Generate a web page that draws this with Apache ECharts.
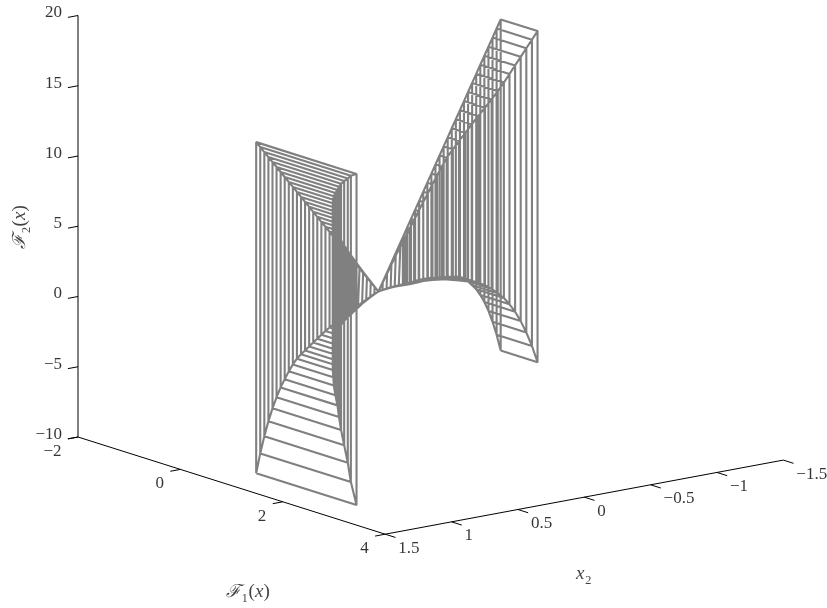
<!DOCTYPE html>
<html>
<head>
<meta charset="utf-8">
<style>html,body{margin:0;padding:0;background:#fff}#c{width:827px;height:608px}</style>
<script src="https://cdn.jsdelivr.net/npm/echarts@6/dist/echarts.min.js"></script>
</head>
<body>
<div id="c"></div>
<script>
var x2Values = [1.5,1.45,1.4,1.35,1.3,1.25,1.2,1.15,1.1,1.05,1,0.95,0.9,0.85,0.8,0.75,0.7,0.65,0.6,0.55,0.5,0.45,0.4,0.35,0.3,0.25,0.2,0.15,0.1,0.05,0,
  -0.05,-0.1,-0.15,-0.2,-0.25,-0.3,-0.35,-0.4,-0.45,-0.5,-0.55,-0.6,-0.65,-0.7,-0.75,-0.8,-0.85,-0.9,-0.95,-1,-1.05,-1.1,-1.15,-1.2,-1.25,-1.3,-1.35,-1.4,-1.45,-1.5];
var f1Low = [1.48,1.43,1.38,1.33,1.28,1.23,1.18,1.13,1.08,1.03,0.98,0.93,0.88,0.83,0.78,0.73,0.68,0.63,0.58,0.53,0.48,0.43,0.38,0.33,0.28,0.23,0.18,0.13,0.08,0.03,-0.02,
  -0.07,-0.12,-0.17,-0.22,-0.27,-0.32,-0.37,-0.42,-0.47,-0.52,-0.57,-0.62,-0.67,-0.72,-0.77,-0.82,-0.87,-0.92,-0.97,-1.02,-1.07,-1.12,-1.17,-1.22,-1.27,-1.32,-1.37,-1.42,-1.47,-1.52];
var f1High = [3.44,3.2,3.01,2.81,2.62,2.45,2.29,2.12,1.96,1.82,1.68,1.55,1.42,1.3,1.18,1.06,0.93,0.83,0.74,0.66,0.58,0.51,0.44,0.38,0.32,0.26,0.2,0.145,0.09,0.035,-0.02,
  -0.065,-0.11,-0.155,-0.2,-0.24,-0.28,-0.32,-0.36,-0.4,-0.44,-0.48,-0.52,-0.56,-0.595,-0.63,-0.64,-0.65,-0.65,-0.66,-0.66,-0.66,-0.66,-0.67,-0.68,-0.7,-0.72,-0.74,-0.76,-0.78,-0.8];
var f2Low = [-8.57,-7.3,-6.23,-5.31,-4.53,-3.89,-3.33,-2.9,-2.48,-2.13,-1.87,-1.7,-1.57,-1.43,-1.3,-1.17,-1.04,-0.92,-0.81,-0.71,-0.62,-0.56,-0.5,-0.44,-0.36,-0.28,-0.2,-0.14,-0.08,-0.03,0,
  -0.03,-0.08,-0.14,-0.2,-0.28,-0.36,-0.44,-0.5,-0.56,-0.62,-0.71,-0.81,-0.92,-1.04,-1.17,-1.3,-1.43,-1.57,-1.7,-1.87,-2.13,-2.48,-2.9,-3.33,-3.89,-4.53,-5.31,-6.23,-7.3,-8.57];
var f2High = [15,14.5,14,13.5,13,12.5,12,11.5,11,10.5,10,9.5,9,8.5,8,7.5,7,6.5,6,5.5,5,4.5,4,3.5,3,2.5,2,1.5,1,0.5,0,
  0.5,1,1.5,2,2.5,3,3.5,4,4.5,5,5.5,6,6.5,7,7.5,8,8.5,9,9.5,10,10.5,11,11.5,12,12.5,13,13.5,14,14.5,15];

var f1Ticks = [-2,0,2,4];
var x2Ticks = [1.5,1,0.5,0,-0.5,-1,-1.5];
var f2Ticks = [-10,-5,0,5,10,15,20];

// oblique view of the three data axes
function view(f1, x2, f2) {
  return [
    78 + 51.2 * (f1 + 2) + 132.7 * (1.5 - x2),
    437 + 16.2 * (f1 + 2) - 24.7 * (1.5 - x2) - 14.05 * (f2 + 10)
  ];
}
var GAP = [null, null];

var mesh = [];
x2Values.forEach(function (x2, i) {
  mesh.push(
    view(f1Low[i], x2, f2Low[i]), view(f1High[i], x2, f2Low[i]),
    view(f1High[i], x2, f2High[i]), view(f1Low[i], x2, f2High[i]),
    view(f1Low[i], x2, f2Low[i]), GAP
  );
});
[[f1Low, f2Low], [f1High, f2Low], [f1Low, f2High], [f1High, f2High]].forEach(function (edge) {
  x2Values.forEach(function (x2, i) { mesh.push(view(edge[0][i], x2, edge[1][i])); });
  mesh.push(GAP);
});

var axes = [
  view(-2, 1.5, 20), view(-2, 1.5, -10), view(4, 1.5, -10), view(4, -1.5, -10), GAP
];
var tickLen = 0.076, tickF1 = 0.2;
f2Ticks.forEach(function (v) { axes.push(view(-2, 1.5, v), view(-2, 1.5 + tickLen, v), GAP); });
f1Ticks.forEach(function (v) { axes.push(view(v, 1.5, -10), view(v, 1.5 + tickLen, -10), GAP); });
x2Ticks.forEach(function (v) { axes.push(view(4, v, -10), view(4 + tickF1, v, -10), GAP); });

function fmt(v) { return String(v).replace('-', '\u2212'); }
function tickLabels(list, fn, dx, dy) {
  return list.map(function (v) {
    var p = fn(v);
    return [p[0] + dx, p[1] + dy, fmt(v)];
  });
}
var FONT = '"Liberation Serif","Times New Roman",serif';
function labelSeries(data, align) {
  return {
    type: 'scatter', data: data, symbolSize: 1, silent: true, clip: false,
    itemStyle: { color: 'transparent' },
    label: {
      show: true, position: 'inside', align: align, verticalAlign: 'middle',
      fontFamily: FONT, fontSize: 17, color: '#000',
      formatter: function (p) { return p.data[2]; }
    }
  };
}
var richText = {
  f: { fontFamily: '"DejaVu Serif","Liberation Serif",serif', fontStyle: 'italic', fontSize: 18, color: '#111' },
  b: { fontFamily: FONT, fontSize: 21, color: '#111' },
  s: { fontFamily: FONT, fontSize: 19, color: '#111' },
  i: { fontFamily: FONT, fontStyle: 'italic', fontSize: 19, color: '#111' }
};
function titleSeries(pos, text, rotate) {
  return {
    type: 'scatter', data: [pos], symbolSize: 1, silent: true, clip: false,
    itemStyle: { color: 'transparent' },
    label: { show: true, position: 'inside', align: 'center', verticalAlign: 'middle', rotate: rotate || 0, rich: richText, formatter: text }
  };
}

var chart = echarts.init(document.getElementById('c'), null, { renderer: 'canvas' });
chart.setOption({
  animation: false,
  backgroundColor: '#fff',
  grid: { left: 0, right: 0, top: 0, bottom: 0 },
  xAxis: { type: 'value', min: 0, max: 827, show: false },
  yAxis: { type: 'value', min: 0, max: 608, inverse: true, show: false },
  series: [
    { type: 'line', data: mesh, showSymbol: false, symbol: 'none', connectNulls: false, silent: true, clip: false,
      lineStyle: { color: '#808080', width: 2.1 } },
    { type: 'line', data: axes, showSymbol: false, symbol: 'none', connectNulls: false, silent: true, clip: false,
      lineStyle: { color: '#000', width: 1 } },
    labelSeries(tickLabels(f2Ticks, function (v) { return view(-2, 1.5, v); }, -16, -2.5), 'right'),
    labelSeries(tickLabels(f1Ticks, function (v) { return view(v, 1.5, -10); }, -16.5, 14.5), 'right'),
    labelSeries(tickLabels(x2Ticks, function (v) { return view(4, v, -10); }, 13, 14), 'left'),
    titleSeries([248, 592], '{f|\u2131}{b|\u2081}{s|(}{i|x}{s|)}'),
    titleSeries([584, 574], '{i|x}{b|\u2082}'),
    titleSeries([20, 227], '{f|\u2131}{b|\u2082}{s|(}{i|x}{s|)}', 90)
  ]
});
</script>
</body>
</html>
